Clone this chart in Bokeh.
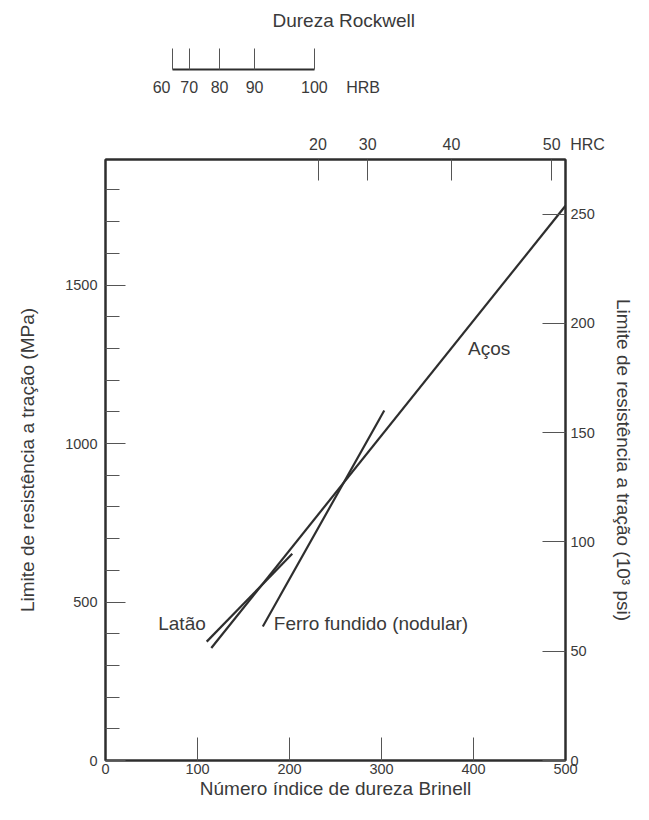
from bokeh.plotting import figure
from bokeh.models import Range1d, LinearAxis, FixedTicker, Label
from bokeh.layouts import column
from bokeh.embed import file_html
from bokeh.resources import INLINE

# ---- data ----
brinell_ticks = [0, 100, 200, 300, 400, 500]
mpa_major = [0, 500, 1000, 1500]
mpa_minor = [100, 200, 300, 400, 600, 700, 800, 900, 1100, 1200, 1300, 1400, 1600, 1700, 1800]
psi_ticks = [0, 50, 100, 150, 200, 250]
hrc_labels = ["20", "30", "40", "50"]
hrc_brinell = [231, 285, 376, 485]
hrb_labels = ["60", "70", "80", "90", "100"]
hrb_brinell = [73, 91, 124, 162, 227]

steel_hb = [115, 500]
steel_mpa = [355, 1750]
brass_hb = [110, 203]
brass_mpa = [375, 652]
iron_hb = [171, 303]
iron_mpa = [423, 1104]

annot_text = ["Latão", "Ferro fundido (nodular)", "Aços"]
annot_hb = [109, 183, 394]
annot_mpa = [432, 432, 1300]
annot_align = ["right", "left", "left"]

FONT = "Liberation Sans"
TXT = "#3a3a3a"
LINE = "#2e2e2e"
TICK = "#555555"

LEFT = 105                 # left border of both frames
FRAME_W = 460              # main frame width for 0..500
PX_PER_HB = FRAME_W / 500
HDR_W = 633 - LEFT         # header frame runs to the right page edge

# ---- header figure: Rockwell scales ----
hdr = figure(width=633, height=155, frame_width=HDR_W, frame_height=69,
             x_range=Range1d(0, HDR_W / PX_PER_HB), y_range=Range1d(0, 69),
             min_border_left=LEFT, min_border_right=0, min_border_top=0, min_border_bottom=86,
             x_axis_location=None, y_axis_location=None,
             toolbar_location=None, output_backend="svg")
hdr.outline_line_color = None
hdr.grid.visible = False

# HRB scale line and ticks
hrb_line = LinearAxis(ticker=FixedTicker(ticks=hrb_brinell),
                      bounds=(hrb_brinell[0], hrb_brinell[-1]))
hrb_line.major_tick_in = 21
hrb_line.major_tick_out = 0
hrb_line.major_tick_line_color = TICK
hrb_line.axis_line_color = LINE
hrb_line.axis_line_width = 1.8
hrb_line.major_label_standoff = 0
hrb_line.major_label_text_font_size = "1px"
hrb_line.major_label_text_alpha = 0
hdr.add_layout(hrb_line, "below")

# HRB labels (+ unit name); the "60" label sits a little left of its tick, as in the original
hrb_label_pos = [hrb_brinell[0] - 12] + hrb_brinell[1:]
hrb_lab = LinearAxis(ticker=FixedTicker(ticks=hrb_label_pos + [280]),
                     major_label_overrides={**{v: s for v, s in zip(hrb_label_pos, hrb_labels)}, 280: "HRB"})
hrb_lab.axis_line_color = None
hrb_lab.major_tick_line_color = None
hrb_lab.minor_tick_line_color = None
hrb_lab.major_label_standoff = 3
hrb_lab.major_label_text_font = FONT
hrb_lab.major_label_text_font_size = "16px"
hrb_lab.major_label_text_color = TXT
hdr.add_layout(hrb_lab, "below")

# HRC labels (+ unit name), sitting just above the main frame
hrc_lab = LinearAxis(ticker=FixedTicker(ticks=hrc_brinell + [524]),
                     major_label_overrides={**{v: s for v, s in zip(hrc_brinell, hrc_labels)}, 524: "HRC"})
hrc_lab.axis_line_color = None
hrc_lab.major_tick_line_color = None
hrc_lab.minor_tick_line_color = None
hrc_lab.major_label_standoff = 31
hrc_lab.major_label_text_font = FONT
hrc_lab.major_label_text_font_size = "16px"
hrc_lab.major_label_text_color = TXT
hdr.add_layout(hrc_lab, "below")

hdr.add_layout(Label(x=259, y=49, text="Dureza Rockwell", text_align="center",
                     text_baseline="middle", text_font=FONT, text_font_size="19px",
                     text_color=TXT))

# ---- main figure ----
p = figure(width=633, height=649, frame_width=FRAME_W, frame_height=601,
           x_range=Range1d(0, 500), y_range=Range1d(0, 1896),
           min_border_left=LEFT, min_border_right=633 - LEFT - FRAME_W,
           min_border_top=4, min_border_bottom=44,
           x_axis_location=None, y_axis_location=None,
           toolbar_location=None, output_backend="svg")
p.extra_y_ranges = {"psi": Range1d(0, 275)}
p.grid.visible = False
p.outline_line_color = LINE
p.outline_line_width = 2


def style(ax, label_size="14.5px"):
    ax.axis_line_color = LINE
    ax.axis_line_width = 2
    ax.major_tick_line_color = TICK
    ax.minor_tick_line_color = TICK
    ax.major_tick_out = 0
    ax.minor_tick_out = 0
    ax.major_label_text_font = FONT
    ax.major_label_text_font_size = label_size
    ax.major_label_text_color = TXT
    ax.axis_label_text_font = FONT
    ax.axis_label_text_font_size = "19px"
    ax.axis_label_text_font_style = "normal"
    ax.axis_label_text_color = TXT


left = LinearAxis(ticker=FixedTicker(ticks=mpa_major, minor_ticks=mpa_minor),
                  axis_label="Limite de resistência a tração (MPa)")
style(left)
left.major_tick_in = 20
left.minor_tick_in = 14
left.major_label_standoff = 8
left.axis_label_standoff = 24
p.add_layout(left, "left")

right = LinearAxis(y_range_name="psi", ticker=FixedTicker(ticks=psi_ticks),
                   axis_label="Limite de resistência a tração (10³ psi)")
style(right)
right.major_tick_in = 23
right.minor_tick_in = 0
right.major_label_standoff = 5
right.axis_label_standoff = 15
p.add_layout(right, "right")

bottom = LinearAxis(ticker=FixedTicker(ticks=brinell_ticks),
                    axis_label="Número índice de dureza Brinell")
style(bottom)
bottom.major_tick_in = 23
bottom.minor_tick_in = 0
bottom.major_label_standoff = 3
bottom.axis_label_standoff = 1
p.add_layout(bottom, "below")

# HRC ticks on the top edge (labels are in the header row above)
top = LinearAxis(ticker=FixedTicker(ticks=hrc_brinell))
style(top)
top.major_tick_in = 21
top.minor_tick_in = 0
top.major_label_standoff = 0
top.major_label_text_font_size = "1px"
top.major_label_text_alpha = 0
p.add_layout(top, "above")

p.line(steel_hb, steel_mpa, line_width=2.2, line_color=LINE)
p.line(brass_hb, brass_mpa, line_width=2.2, line_color=LINE)
p.line(iron_hb, iron_mpa, line_width=2.2, line_color=LINE)

for s, xv, yv, al in zip(annot_text, annot_hb, annot_mpa, annot_align):
    p.add_layout(Label(x=xv, y=yv, text=s, text_align=al, text_baseline="middle",
                       text_font=FONT, text_font_size="19px", text_color=TXT))

layout = column(hdr, p)
open("out.html", "w").write(file_html(layout, INLINE))
